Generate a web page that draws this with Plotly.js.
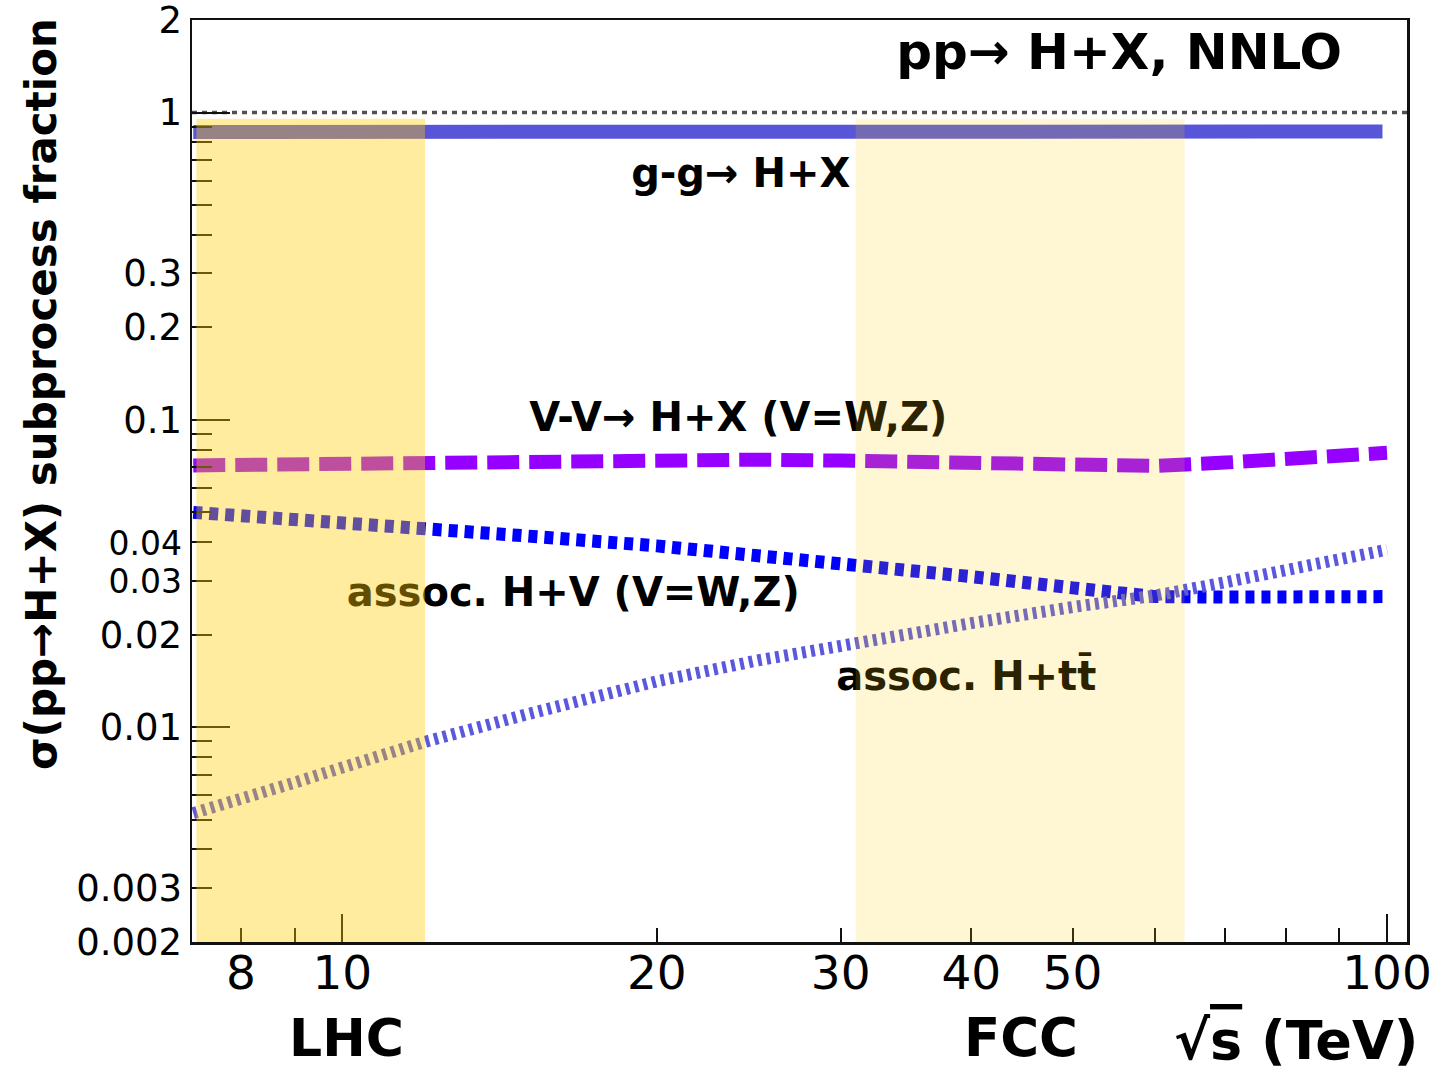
<!DOCTYPE html>
<html>
<head>
<meta charset="utf-8">
<script src="https://cdn.plot.ly/plotly-3.0.1.min.js"></script>
<style>
  html, body { margin: 0; padding: 0; background: #ffffff; }
  #chart { width: 1439px; height: 1075px; }
</style>
</head>
<body>
<div id="chart"></div>
<script>
// ---- data ----
const energyGG = [7.2, 10, 12, 15, 20, 25, 30, 35, 40, 50, 60, 70, 80, 90, 99];
const fracGG   = [0.865, 0.865, 0.867, 0.869, 0.862, 0.862, 0.860, 0.868, 0.868, 0.866, 0.863, 0.848, 0.857, 0.862, 0.867];

const energy = [7.2, 8, 9, 10, 12, 15, 20, 25, 30, 40, 50, 60, 70, 80, 90, 100];
const fracVV  = [0.0711, 0.0714, 0.0717, 0.0722, 0.0731, 0.0740, 0.0745, 0.0742, 0.0737, 0.0728, 0.0718, 0.0708, 0.0726, 0.0744, 0.0762, 0.0781];
const fracHV  = [0.0500, 0.0489, 0.0478, 0.0467, 0.0449, 0.0419, 0.0389, 0.0363, 0.0341, 0.0309, 0.0284, 0.0266, 0.0265, 0.0266, 0.0266, 0.0266];
const fracTTH = [0.00525, 0.0058, 0.0066, 0.00739, 0.00896, 0.0110, 0.0141, 0.0165, 0.0185, 0.0218, 0.0246, 0.0268, 0.0296, 0.0322, 0.0349, 0.0378];

const xTickVals = [8, 10, 20, 30, 40, 50, 100];
const xTickText = ['8', '10', '20', '30', '40', '50', '100'];
const xMinorVals = [9, 60, 70, 80, 90];
const xMajorLong = [10, 100];

const yTickVals = [0.002, 0.003, 0.01, 0.02, 0.03, 0.04, 0.1, 0.2, 0.3, 1, 2];
const yTickText = ['0.002', '0.003', '0.01', '0.02', '0.03', '0.04', '0.1', '0.2', '0.3', '1', '2'];
const yMinorVals = [0.004, 0.005, 0.006, 0.007, 0.008, 0.009, 0.05, 0.06, 0.07, 0.08, 0.09, 0.4, 0.5, 0.6, 0.7, 0.8, 0.9];
const yMajorLong = [0.01, 0.1, 1];

const xRange = [7.18, 104.5];
const yRange = [0.002, 2];

const bandLHC = [7.25, 12];
const bandFCC = [31, 64];
const bandTop = 0.955;

// label texts and anchor positions (data coordinates)
const labelText = ['pp\u2192 H+X, NNLO', 'g-g\u2192 H+X', 'V-V\u2192 H+X (V=W,Z)', 'assoc. H+V (V=W,Z)', 'assoc. H+tt\u0304'];
const labelX = [33.9, 18.9, 15.1, 10.1, 29.7];
const labelY = [1.52, 0.615, 0.099, 0.0268, 0.0142];
const labelSize = [50, 40, 40, 40, 40];

const FONT = 'DejaVu Sans, Noto Sans, sans-serif';
const lg = Math.log10;
const eps = 1e-4;

// the two tightly spaced labels (0.03, 0.04) are set a touch smaller so they do not collide
const yTickTextStyled = yTickText.map(t => (t === '0.03' || t === '0.04') ? '<span style="font-size:33px">' + t + '</span>' : t);

const traces = [
  { x: energyGG, y: fracGG, mode: 'lines', line: { color: '#5856d8', width: 14 }, hoverinfo: 'skip', showlegend: false },
  { x: energy, y: fracVV, mode: 'lines', line: { color: '#9600ff', width: 14, dash: '32px,10px' }, hoverinfo: 'skip', showlegend: false },
  { x: energy, y: fracHV, mode: 'lines', line: { color: '#0000ff', width: 13, dash: '9px,7px' }, hoverinfo: 'skip', showlegend: false },
  { x: energy, y: fracTTH, mode: 'lines', line: { color: '#5a58dc', width: 12, dash: '4px,5px' }, hoverinfo: 'skip', showlegend: false },
  { x: [], y: [], xaxis: 'x2', yaxis: 'y2', mode: 'lines', hoverinfo: 'skip', showlegend: false }
];

labelText.forEach((t, i) => {
  traces.push({
    x: [labelX[i]], y: [labelY[i]], mode: 'text', text: [t],
    textposition: 'middle right',
    textfont: { family: FONT, size: labelSize[i], color: '#000000', weight: 'bold' },
    hoverinfo: 'skip', showlegend: false, cliponaxis: false
  });
});

const axisCommon = {
  type: 'log', showgrid: false, zeroline: false,
  showline: true, mirror: true, linecolor: '#111111', linewidth: 2.5,
  ticks: 'inside', tickcolor: '#111111', tickwidth: 2,
  ticklabeloverflow: 'allow'
};

const layout = {
  width: 1439, height: 1075,
  margin: { l: 192, r: 32, t: 20, b: 133, pad: 0 },
  paper_bgcolor: '#ffffff', plot_bgcolor: '#ffffff',
  showlegend: false,
  xaxis: Object.assign({}, axisCommon, {
    range: [lg(xRange[0]), lg(xRange[1])],
    tickmode: 'array', tickvals: xTickVals, ticktext: xTickText, ticklen: 14,
    ticklabelstandoff: -12,
    tickfont: { family: FONT, size: 47, color: '#000000' },
    minor: { tickmode: 'array', tickvals: xMinorVals, ticks: 'inside', ticklen: 14, tickwidth: 2, tickcolor: '#111111' }
  }),
  yaxis: Object.assign({}, axisCommon, {
    range: [lg(yRange[0]) - eps, lg(yRange[1]) + eps],
    tickmode: 'array', tickvals: yTickVals, ticktext: yTickTextStyled, ticklen: 20,
    tickfont: { family: FONT, size: 37, color: '#000000' },
    minor: { tickmode: 'array', tickvals: yMinorVals, ticks: 'inside', ticklen: 20, tickwidth: 2, tickcolor: '#111111' }
  }),
  xaxis2: {
    type: 'log', overlaying: 'x', anchor: 'y', side: 'bottom',
    range: [lg(xRange[0]), lg(xRange[1])],
    showgrid: false, zeroline: false, showline: false,
    tickmode: 'array', tickvals: xMajorLong, ticks: 'inside', ticklen: 28, tickwidth: 2, tickcolor: '#111111',
    showticklabels: false
  },
  yaxis2: {
    type: 'log', overlaying: 'y', anchor: 'x', side: 'left',
    range: [lg(yRange[0]) - eps, lg(yRange[1]) + eps],
    showgrid: false, zeroline: false, showline: false,
    tickmode: 'array', tickvals: yMajorLong, ticks: 'inside', ticklen: 38, tickwidth: 2, tickcolor: '#111111',
    showticklabels: false
  },
  shapes: [
    { type: 'line', xref: 'paper', yref: 'y', x0: 0, x1: 1, y0: 1, y1: 1,
      line: { color: '#505050', width: 3.5, dash: '5px,5px' }, layer: 'below' },
    { type: 'rect', xref: 'x', yref: 'y', x0: bandLHC[0], x1: bandLHC[1], y0: yRange[0], y1: bandTop,
      fillcolor: 'rgba(255,204,0,0.38)', line: { width: 0 }, layer: 'above' },
    { type: 'rect', xref: 'x', yref: 'y', x0: bandFCC[0], x1: bandFCC[1], y0: yRange[0], y1: bandTop,
      fillcolor: 'rgba(255,204,0,0.17)', line: { width: 0 }, layer: 'above' }
  ],
  annotations: [
    { text: 'LHC', xref: 'paper', yref: 'paper', x: 0.0782, y: -0.104, xanchor: 'left', yanchor: 'middle',
      showarrow: false, font: { family: FONT, size: 52, color: '#000000', weight: 'bold' } },
    { text: 'FCC', xref: 'paper', yref: 'paper', x: 0.6337, y: -0.104, xanchor: 'left', yanchor: 'middle',
      showarrow: false, font: { family: FONT, size: 53, color: '#000000', weight: 'bold' } },
    { text: '\u221A<span style="text-decoration:overline">s</span> (TeV)', xref: 'paper', yref: 'paper', x: 0.8065, y: -0.107,
      xanchor: 'left', yanchor: 'middle',
      showarrow: false, font: { family: FONT, size: 54, color: '#000000', weight: 'bold' } },
    { text: '\u03C3(pp\u2192H+X) subprocess fraction', xref: 'paper', yref: 'paper', x: -0.1235, y: 0.5944,
      xanchor: 'center', yanchor: 'middle', textangle: -90,
      showarrow: false, font: { family: FONT, size: 42, color: '#000000', weight: 'bold' } }
  ]
};

Plotly.newPlot('chart', traces, layout, { displayModeBar: false, staticPlot: true });
</script>
</body>
</html>
